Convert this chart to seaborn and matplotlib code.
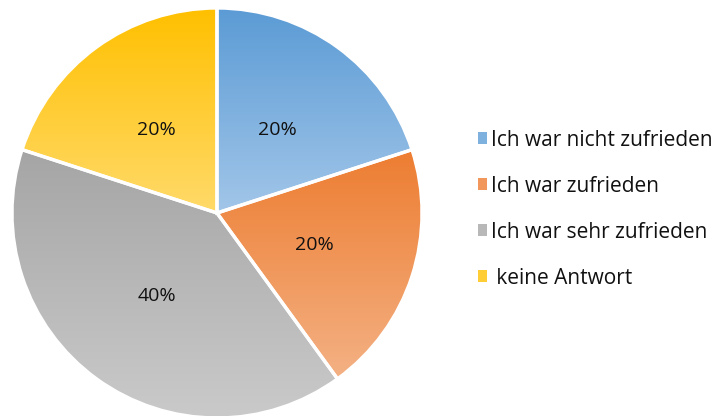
import numpy as np
import matplotlib
matplotlib.use("Agg")
import matplotlib.pyplot as plt
import seaborn as sns
from matplotlib.colors import LinearSegmentedColormap
from matplotlib.patches import Patch

# data
labels = ["Ich war nicht zufrieden", "Ich war zufrieden", "Ich war sehr zufrieden", " keine Antwort"]
values = [20, 20, 40, 20]
top_colors = ["#5B9BD5", "#ED7D31", "#A5A5A5", "#FFC000"]
bottom_colors = ["#A2C6E9", "#F4B184", "#CACACA", "#FFDA6A"]

sns.set_theme(style="white")
plt.rcParams["font.family"] = ["Open Sans", "DejaVu Sans"]

fig = plt.figure(figsize=(7.16, 4.16), dpi=100)
W, H = 716, 416
cx, cy, r = 217, 213, 205
ax = fig.add_axes([(cx - r) / W, (H - cy - r) / H, 2 * r / W, 2 * r / H])
ax.set_xlim(-1, 1)
ax.set_ylim(-1, 1)
ax.set_aspect("equal")
ax.axis("off")

wedges, texts, autotexts = ax.pie(
    values, startangle=90, counterclock=False, radius=1,
    colors=top_colors, autopct="%1.0f%%", pctdistance=0.5,
    wedgeprops=dict(edgecolor="white", linewidth=2.4),
    textprops=dict(fontsize=14, color="#111111"),
)

# vertical gradient fill per slice
grad = np.linspace(0, 1, 256).reshape(-1, 1)
for w, c1, c2 in zip(wedges, top_colors, bottom_colors):
    verts = w.get_path().vertices
    ymin, ymax = verts[:, 1].min(), verts[:, 1].max()
    cmap = LinearSegmentedColormap.from_list("g", [c2, c1])
    im = ax.imshow(grad, cmap=cmap, extent=[-1, 1, ymin, ymax],
                   origin="lower", aspect="auto", zorder=1.5)
    im.set_clip_path(w)
    w.set_zorder(2)
    w.set_facecolor("none")

for t in autotexts:
    t.set_zorder(3)

ax.set_xlim(-1, 1)
ax.set_ylim(-1, 1)

mid_colors = [sns.blend_palette([a, b], 3)[1] for a, b in zip(top_colors, bottom_colors)]
handles = [Patch(facecolor=c, edgecolor="none") for c in mid_colors]
leg = fig.legend(handles, labels, loc="center left", bbox_to_anchor=(478 / W, 1 - 209 / H),
                 frameon=False, fontsize=15, handlelength=0.45, handleheight=0.45,
                 handletextpad=0.15, labelspacing=1.2, borderpad=0, borderaxespad=0)
for t in leg.get_texts():
    t.set_color("#111111")

fig.savefig("out.png", dpi=100)
